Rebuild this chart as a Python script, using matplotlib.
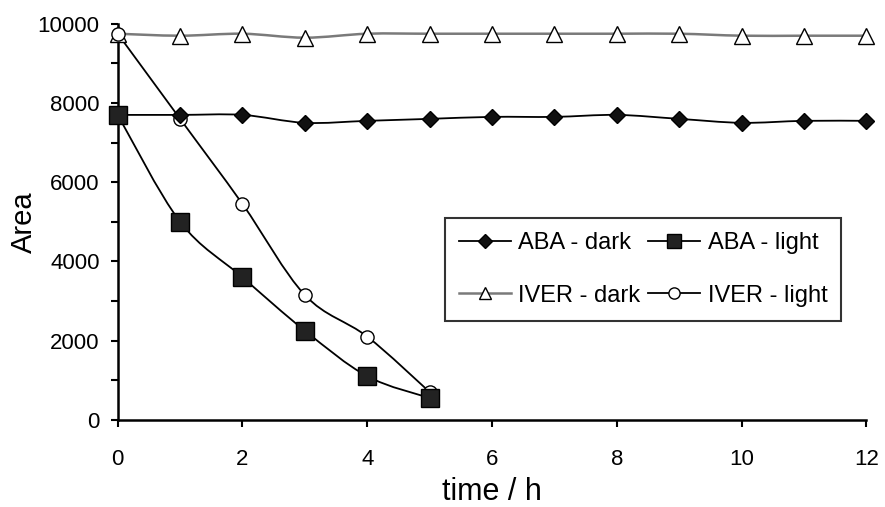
import matplotlib.pyplot as plt
import numpy as np
from matplotlib.ticker import MultipleLocator
from matplotlib.path import Path
from matplotlib.patches import PathPatch

plt.rcParams['font.family'] = ['Liberation Sans', 'DejaVu Sans']

t_dark = np.arange(0, 13)
t_light = np.arange(0, 6)
aba_dark = [7700, 7700, 7700, 7500, 7550, 7600, 7650, 7650, 7700, 7600, 7500, 7550, 7550]
aba_light = [7700, 5000, 3600, 2250, 1100, 550]
iver_dark = [9750, 9700, 9750, 9650, 9750, 9750, 9750, 9750, 9750, 9750, 9700, 9700, 9700]
iver_light = [9750, 7600, 5450, 3150, 2100, 700]


def smooth_line(ax, x, y, **kw):
    # Excel-like smoothed line: Catmull-Rom segments drawn as cubic Beziers
    p = np.column_stack([x, y]).astype(float)
    verts = [p[0]]
    codes = [Path.MOVETO]
    for i in range(len(p) - 1):
        p0 = p[i - 1] if i > 0 else p[i]
        p3 = p[i + 2] if i + 2 < len(p) else p[i + 1]
        verts += [p[i] + (p[i + 1] - p0) / 6, p[i + 1] - (p3 - p[i]) / 6, p[i + 1]]
        codes += [Path.CURVE4] * 3
    ax.add_patch(PathPatch(Path(verts, codes), fill=False, clip_on=False, **kw))


fig = plt.figure(figsize=(8.85, 5.07), dpi=100)
ax = fig.add_axes([0.133, 0.172, 0.846, 0.781])

styles = [
    ("ABA - dark", t_dark, aba_dark, "black", 1.3, "D", 8, "#111111", 4),
    ("ABA - light", t_light, aba_light, "black", 1.3, "s", 12.5, "#222222", 4),
    ("IVER - dark", t_dark, iver_dark, "#7a7a7a", 1.8, "^", 11, "white", 3),
    ("IVER - light", t_light, iver_light, "black", 1.3, "o", 9.5, "white", 3),
]
handles = {}
for label, x, y, c, lw, m, ms, fc, z in styles:
    smooth_line(ax, x, y, edgecolor=c, lw=lw, zorder=z - 0.5)
    ax.plot(x, y, ls="none", marker=m, ms=ms, mfc=fc, mec="black",
            zorder=z, clip_on=False)
    handles[label], = ax.plot([], [], "-", color=c, lw=lw, marker=m, ms=ms,
                              mfc=fc, mec="black")

ax.set_xlim(0, 12)
ax.set_ylim(0, 10000)
ax.xaxis.set_major_locator(MultipleLocator(2))
ax.yaxis.set_major_locator(MultipleLocator(2000))
ax.yaxis.set_minor_locator(MultipleLocator(1000))
ax.tick_params(which="both", direction="out", width=1.5, length=5, labelsize=16)
ax.tick_params(axis="x", pad=16)
ax.tick_params(axis="y", pad=8)
for s in ["top", "right"]:
    ax.spines[s].set_visible(False)
for s in ["left", "bottom"]:
    ax.spines[s].set_linewidth(1.8)

ax.set_xlabel("time / h", fontsize=22, labelpad=5)
ax.set_ylabel("Area", fontsize=21, labelpad=0)

# order rows as in the reference: ABA on top, IVER below
order = ["ABA - dark", "IVER - dark", "ABA - light", "IVER - light"]
leg = ax.legend([handles[k] for k in order], order,
                ncol=2, loc="upper left", bbox_to_anchor=(0.437, 0.51),
                borderaxespad=0, fontsize=17, frameon=True, fancybox=False,
                edgecolor="black", handlelength=2.2, columnspacing=0.35,
                handletextpad=0.3, borderpad=0.6, labelspacing=1.3, markerscale=0.85)
leg.get_frame().set_linewidth(1.5)

fig.savefig("out.png", dpi=100)
